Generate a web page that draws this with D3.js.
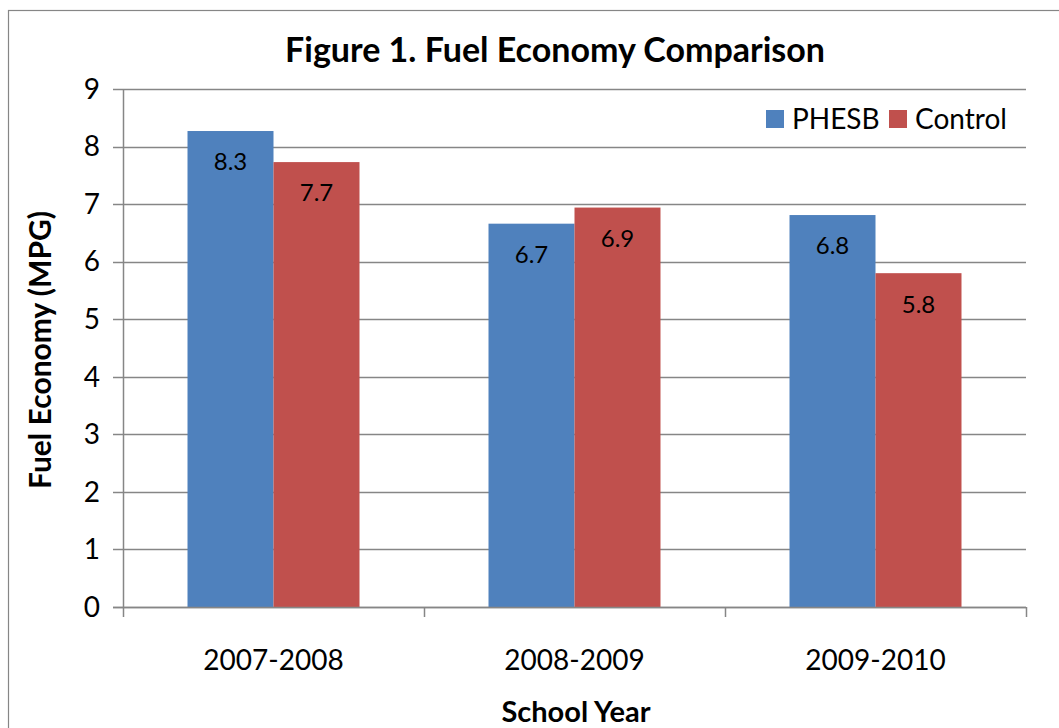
<!DOCTYPE html>
<html>
<head>
<meta charset="utf-8">
<script src="https://cdn.jsdelivr.net/npm/d3@7"></script>
<style>
  body { margin: 0; background: #fff; }
  text { font-family: Lato, "Open Sans", sans-serif; fill: #000; }
</style>
</head>
<body>
<div class="core_div"></div>
<script>
// Data
var years = ["2007-2008", "2008-2009", "2009-2010"];
var seriesNames = ["PHESB", "Control"];
var phesb = [8.27, 6.66, 6.81];
var control = [7.73, 6.94, 5.80];
var yTicks = [0, 1, 2, 3, 4, 5, 6, 7, 8, 9];
var colors = ["#4F81BD", "#C0504D"];

var W = 1059, H = 728;
var margin = {top: 89, right: 33, bottom: 121, left: 123};

var svg = d3.select(".core_div").append("svg")
    .attr("width", W)
    .attr("height", H);

// chart frame
svg.append("rect")
    .attr("x", 8.5).attr("y", 10.5)
    .attr("width", 1100).attr("height", 800)
    .attr("fill", "#fff")
    .attr("stroke", "#868686")
    .attr("stroke-width", 1.2);

var g = svg.append("g")
    .attr("transform", "translate(" + margin.left + "," + margin.top + ")");

var width = W - margin.left - margin.right,
    height = H - margin.top - margin.bottom;

var x = d3.scaleBand().domain(years).range([0, width]).paddingInner(0).paddingOuter(0);
var xs = d3.scaleBand().domain(seriesNames).range([x.bandwidth() * 0.2143, x.bandwidth() * 0.7857]);
var y = d3.scaleLinear().domain([0, 9]).range([height, 0]);

// gridlines
g.selectAll("line.grid")
    .data(yTicks)
  .enter().append("line")
    .attr("class", "grid")
    .attr("x1", -10).attr("x2", width)
    .attr("y1", function(d) { return Math.round(y(d)) + 0.5; })
    .attr("y2", function(d) { return Math.round(y(d)) + 0.5; })
    .attr("stroke", "#868686")
    .attr("stroke-width", 1.5);

// y tick labels
g.selectAll("text.ytick")
    .data(yTicks)
  .enter().append("text")
    .attr("class", "ytick")
    .attr("x", -23)
    .attr("y", function(d) { return y(d); })
    .attr("dy", "0.35em")
    .attr("text-anchor", "end")
    .style("font-size", "28px")
    .text(function(d) { return d; });

// bars
var data = [];
years.forEach(function(yr, i) {
  data.push({year: yr, s: "PHESB", v: phesb[i]});
  data.push({year: yr, s: "Control", v: control[i]});
});

g.selectAll("rect.bar")
    .data(data)
  .enter().append("rect")
    .attr("class", "bar")
    .attr("x", function(d) { return x(d.year) + xs(d.s); })
    .attr("y", function(d) { return y(d.v); })
    .attr("width", xs.bandwidth())
    .attr("height", function(d) { return height - y(d.v); })
    .attr("fill", function(d) { return colors[seriesNames.indexOf(d.s)]; });

g.selectAll("text.val")
    .data(data)
  .enter().append("text")
    .attr("class", "val")
    .attr("x", function(d) { return x(d.year) + xs(d.s) + xs.bandwidth() / 2; })
    .attr("y", function(d) { return y(d.v) + 31; })
    .attr("dy", "0.35em")
    .attr("text-anchor", "middle")
    .style("font-size", "24px")
    .text(function(d) { return d.v.toFixed(1); });

// axes lines
g.append("line")
    .attr("x1", 0.5).attr("x2", 0.5)
    .attr("y1", 0).attr("y2", height)
    .attr("stroke", "#868686").attr("stroke-width", 1.5);
g.append("line")
    .attr("x1", -10).attr("x2", width)
    .attr("y1", height + 0.5).attr("y2", height + 0.5)
    .attr("stroke", "#868686").attr("stroke-width", 1.5);

var xTickPos = years.map(function(d) { return x(d); }).concat([width]);
g.selectAll("line.xtick")
    .data(xTickPos)
  .enter().append("line")
    .attr("class", "xtick")
    .attr("x1", function(d) { return Math.round(d) + 0.5; })
    .attr("x2", function(d) { return Math.round(d) + 0.5; })
    .attr("y1", height).attr("y2", height + 10)
    .attr("stroke", "#868686").attr("stroke-width", 1.5);

g.selectAll("text.xlab")
    .data(years)
  .enter().append("text")
    .attr("class", "xlab")
    .attr("x", function(d) { return x(d) + x.bandwidth() / 2; })
    .attr("y", height + 53)
    .attr("dy", "0.35em")
    .attr("text-anchor", "middle")
    .style("font-size", "28px")
    .text(function(d) { return d; });

// titles
svg.append("text")
    .attr("x", 555).attr("y", 50)
    .attr("dy", "0.35em")
    .attr("text-anchor", "middle")
    .style("font-size", "34px").style("font-weight", "bold")
    .text("Figure 1. Fuel Economy Comparison");

svg.append("text")
    .attr("x", 576).attr("y", 712)
    .attr("dy", "0.35em")
    .attr("text-anchor", "middle")
    .style("font-size", "29px").style("font-weight", "bold")
    .text("School Year");

svg.append("text")
    .attr("transform", "translate(40,350) rotate(-90)")
    .attr("dy", "0.35em")
    .attr("text-anchor", "middle")
    .style("font-size", "30px").style("font-weight", "bold")
    .text("Fuel Economy (MPG)");

// legend
var legendX = [766, 889];
var legend = svg.selectAll("g.legend")
    .data(seriesNames)
  .enter().append("g")
    .attr("class", "legend")
    .attr("transform", function(d, i) { return "translate(" + legendX[i] + ",110)"; });
legend.append("rect")
    .attr("width", 18).attr("height", 18)
    .attr("fill", function(d, i) { return colors[i]; });
legend.append("text")
    .attr("x", 26).attr("y", 9)
    .attr("dy", "0.35em")
    .style("font-size", "28px")
    .text(function(d) { return d; });
</script>
</body>
</html>
